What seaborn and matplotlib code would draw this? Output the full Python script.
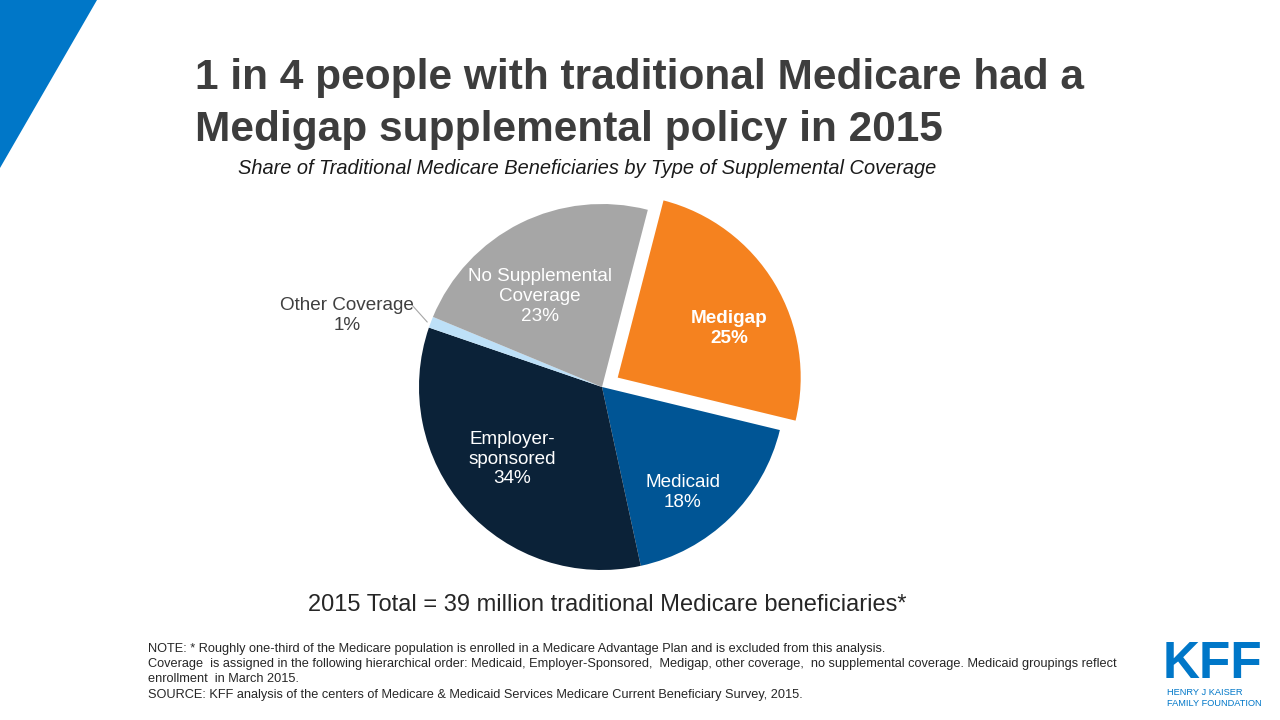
import numpy as np
import seaborn as sns
import matplotlib
matplotlib.use("Agg")
import matplotlib.pyplot as plt
from matplotlib.patches import Polygon

# data
categories = ["Medigap", "Medicaid", "Employer-\nsponsored", "Other Coverage", "No Supplemental\nCoverage"]
shares = [25, 18, 34, 1, 23]
colors = ["#F5821F", "#005595", "#0B2238", "#BDE0F8", "#A6A6A6"]

title = "1 in 4 people with traditional Medicare had a\nMedigap supplemental policy in 2015"
subtitle = "Share of Traditional Medicare Beneficiaries by Type of Supplemental Coverage"
total_note = "2015 Total = 39 million traditional Medicare beneficiaries*"
notes = ["NOTE: * Roughly one-third of the Medicare population is enrolled in a Medicare Advantage Plan and is excluded from this analysis.",
         "Coverage  is assigned in the following hierarchical order: Medicaid, Employer-Sponsored,  Medigap, other coverage,  no supplemental coverage. Medicaid groupings reflect",
         "enrollment  in March 2015.",
         "SOURCE: KFF analysis of the centers of Medicare & Medicaid Services Medicare Current Beneficiary Survey, 2015."]

sns.set_theme(style="white")
plt.rcParams['font.family'] = ['Liberation Sans', 'DejaVu Sans']

W, H = 1280, 720
fig = plt.figure(figsize=(12.8, 7.2), dpi=100)
fig.patch.set_facecolor("white")

# blue corner triangle
tri = Polygon([[0, 1], [97 / W, 1], [0, 1 - 168 / H]], closed=True,
              transform=fig.transFigure, facecolor="#0077C8", edgecolor="none")
fig.patches.append(tri)

# title & subtitle
fig.text(195 / W, 1 - 104 / H, title, fontsize=30.5, fontweight="bold", color="#3D3D3D",
         ha="left", va="center", linespacing=1.36)
fig.text(587 / W, 1 - 169 / H, subtitle, fontsize=14.4, style="italic", color="#1A1A1A",
         ha="center", va="center")

# pie axes: centre at (602, 387) px, radius 183 px
cx, cy, r_px, half = 602, 387, 183, 200
ax = fig.add_axes([(cx - half) / W, (H - cy - half) / H, 2 * half / W, 2 * half / H])
lim = half / r_px
wedges, _ = ax.pie(shares, colors=colors, startangle=75.5, counterclock=False,
                   explode=[0.1, 0, 0, 0, 0], radius=1,
                   wedgeprops=dict(linewidth=0))
ax.set_xlim(-lim, lim)
ax.set_ylim(-lim, lim)
ax.set_aspect("equal")
ax.axis("off")

label_pos = [(0.695, 0.32), (0.44, -0.575), (-0.49, -0.395), (-1.395, 0.39), (-0.34, 0.495)]
for i, (lab, val) in enumerate(zip(categories, shares)):
    x, y = label_pos[i]
    if lab == "Other Coverage":
        ax.text(x, y, f"{lab}\n{val}%", ha="center", va="center", fontsize=13.6,
                color="#404040", linespacing=1.2)
        ax.plot([-1.04, -0.955], [0.45, 0.355], color="#A6A6A6", lw=0.8, clip_on=False)
    else:
        ax.text(x, y, f"{lab}\n{val}%", ha="center", va="center", fontsize=13.6,
                color="white", linespacing=1.2,
                fontweight="bold" if lab == "Medigap" else "normal")

fig.text(607 / W, 1 - 605 / H, total_note, fontsize=17, color="#262626",
         ha="center", va="center")

# notes
ys = [649, 664, 679, 695]
for line, yy in zip(notes, ys):
    fig.text(148 / W, 1 - yy / H, line, fontsize=9.2, color="#262626", ha="left", va="center",
             family=['Liberation Sans Narrow', 'Liberation Sans', 'DejaVu Sans'])

# logo
fig.text(1213 / W, 1 - 665 / H, "KFF", fontsize=37, fontweight="bold", color="#0077C8",
         ha="center", va="center")
fig.text(1167 / W, 1 - 698 / H, "HENRY J KAISER\nFAMILY FOUNDATION", fontsize=6.7,
         color="#0077C8", ha="left", va="center", linespacing=1.3)

fig.savefig("out.png", dpi=100)
